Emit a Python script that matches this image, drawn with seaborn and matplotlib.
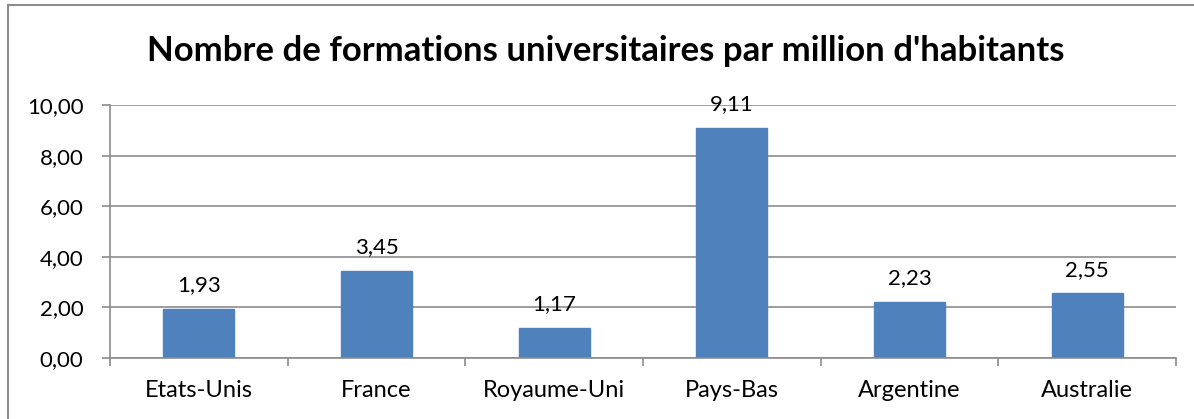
import matplotlib
matplotlib.use("Agg")
import matplotlib.pyplot as plt
import seaborn as sns
import pandas as pd
from matplotlib.patches import Rectangle

categories = ["Etats-Unis", "France", "Royaume-Uni", "Pays-Bas", "Argentine", "Australie"]
values = [1.93, 3.45, 1.17, 9.11, 2.23, 2.55]
yticks = [0, 2, 4, 6, 8, 10]
title = "Nombre de formations universitaires par million d'habitants"

sns.set_theme(style="white")
plt.rcParams['font.family'] = ['Lato', 'DejaVu Sans']

df = pd.DataFrame({"pays": categories, "valeur": values})

W, H = 1194, 419
fig = plt.figure(figsize=(W / 100, H / 100), dpi=100)
ax = fig.add_axes([110 / W, 1 - 358 / H, (1176 - 110) / W, (358 - 105) / H])

sns.barplot(data=df, x="pays", y="valeur", color="#4F81BD", width=0.4,
            saturation=1, ax=ax, edgecolor="#4F81BD")

ax.set_ylim(0, 10)
ax.set_xlim(-0.5, len(categories) - 0.5)
ax.set_yticks(yticks)
ax.set_yticklabels([f"{v:.2f}".replace(".", ",") for v in yticks])
ax.yaxis.grid(True, color="#8C8C8C", linewidth=1.2)
ax.set_axisbelow(True)
ax.set_xlabel("")
ax.set_ylabel("")

for side in ["top", "right"]:
    ax.spines[side].set_visible(False)
for side in ["left", "bottom"]:
    ax.spines[side].set_color("#8C8C8C")
    ax.spines[side].set_linewidth(1.2)

ax.tick_params(axis="y", which="major", left=True, length=6, width=1.2,
               color="#8C8C8C", labelsize=16, pad=13, labelcolor="black")
ax.tick_params(axis="x", which="major", bottom=False, labelsize=17, pad=10,
               labelcolor="black")
ax.set_xticks(range(len(categories)), minor=False)
ax.set_xticks([i - 0.5 for i in range(len(categories) + 1)], minor=True)
ax.tick_params(axis="x", which="minor", bottom=True, length=6, width=1.2,
               color="#8C8C8C", direction="out")

for i, v in enumerate(values):
    ax.annotate(f"{v:.2f}".replace(".", ","), (i, v), xytext=(0, 10),
                textcoords="offset points", ha="center", va="bottom",
                fontsize=16, color="black")

fig.text(0.5 * (142 + 1070) / W, 1 - 51 / H, title, ha="center", va="center",
         fontsize=25, fontweight="bold", color="black")

fig.patches.append(Rectangle((8 / W, -0.1), 1.2, 1 - 5 / H + 0.1,
                             transform=fig.transFigure, fill=False,
                             edgecolor="#8C8C8C", linewidth=1.5))

fig.savefig("out.png", dpi=100)
